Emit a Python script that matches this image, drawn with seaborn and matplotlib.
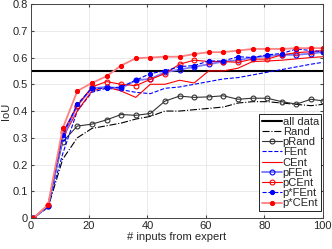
import numpy as np
import seaborn as sns
import matplotlib.pyplot as plt

# number of expert inputs (x axis)
inputs = [1, 6, 11, 16, 21, 26, 31, 36, 41, 46, 51, 56, 61, 66, 71, 76, 81, 86, 91, 96, 100]

all_data = 0.55

rand = [0, 0.04, 0.22, 0.30, 0.335, 0.345, 0.355, 0.37, 0.38, 0.40, 0.40, 0.405, 0.41,
        0.415, 0.43, 0.435, 0.435, 0.43, 0.425, 0.42, 0.425]
p_rand = [0, 0.045, 0.285, 0.344, 0.351, 0.367, 0.387, 0.384, 0.391, 0.437, 0.456, 0.451,
          0.453, 0.457, 0.444, 0.448, 0.448, 0.435, 0.426, 0.444, 0.438]
f_ent = [0, 0.045, 0.24, 0.40, 0.47, 0.485, 0.48, 0.47, 0.465, 0.485, 0.49, 0.50, 0.51,
         0.52, 0.525, 0.535, 0.545, 0.555, 0.565, 0.575, 0.582]
c_ent = [0, 0.05, 0.30, 0.40, 0.475, 0.49, 0.475, 0.451, 0.50, 0.50, 0.515, 0.505, 0.55,
         0.55, 0.56, 0.585, 0.587, 0.59, 0.595, 0.60, 0.603]
p_f_ent = [0, 0.045, 0.30, 0.42, 0.485, 0.49, 0.485, 0.515, 0.52, 0.545, 0.555, 0.565,
           0.575, 0.585, 0.59, 0.60, 0.605, 0.61, 0.61, 0.615, 0.62]
p_c_ent = [0, 0.05, 0.32, 0.42, 0.49, 0.51, 0.50, 0.495, 0.518, 0.54, 0.575, 0.59, 0.585,
           0.585, 0.582, 0.594, 0.594, 0.61, 0.618, 0.622, 0.626]
ps_f_ent = [0, 0.045, 0.31, 0.426, 0.485, 0.485, 0.49, 0.515, 0.54, 0.55, 0.566, 0.57,
            0.587, 0.587, 0.603, 0.60, 0.61, 0.615, 0.632, 0.626, 0.622]
ps_c_ent = [0, 0.05, 0.335, 0.475, 0.505, 0.53, 0.57, 0.597, 0.60, 0.603, 0.603, 0.613,
            0.62, 0.62, 0.626, 0.632, 0.632, 0.632, 0.635, 0.635, 0.635]

sns.set_style('whitegrid')
plt.rcParams['font.family'] = ['Liberation Sans', 'DejaVu Sans']

fig = plt.figure(figsize=(3.32, 2.49), dpi=100)
ax = fig.add_axes([0.092, 0.124, 0.88, 0.86])

ax.axhline(all_data, color='black', lw=1.5, label='all data')
sns.lineplot(x=inputs, y=rand, ax=ax, color='black', lw=0.8, linestyle='-.', label='Rand')
sns.lineplot(x=inputs, y=p_rand, ax=ax, color='#333333', lw=0.8, marker='o', ms=3.5,
             mfc='none', mec='#333333', mew=0.8, label='pRand')
sns.lineplot(x=inputs, y=f_ent, ax=ax, color='blue', lw=0.8, linestyle='--', label='FEnt')
sns.lineplot(x=inputs, y=c_ent, ax=ax, color='red', lw=0.8, label='CEnt')
sns.lineplot(x=inputs, y=p_f_ent, ax=ax, color='#7777ff', lw=1.3, marker='o', ms=3.5,
             mfc='none', mec='blue', mew=0.8, label='pFEnt')
sns.lineplot(x=inputs, y=p_c_ent, ax=ax, color='red', lw=0.8, marker='o', ms=3.5,
             mfc='none', mec='red', mew=0.8, label='pCEnt')
sns.lineplot(x=inputs, y=ps_f_ent, ax=ax, color='blue', lw=0.8, linestyle='--', marker='o',
             ms=3, mfc='blue', mec='blue', label='p*FEnt')
sns.lineplot(x=inputs, y=ps_c_ent, ax=ax, color='#ff8080', lw=1.3, marker='o', ms=3,
             mfc='red', mec='red', label='p*CEnt')

ax.set_xlim(0, 100)
ax.set_ylim(0, 0.8)
ax.set_xticks([0, 20, 40, 60, 80, 100])
ax.set_yticks(np.arange(0, 0.81, 0.1))
ax.set_yticklabels(['0', '0.1', '0.2', '0.3', '0.4', '0.5', '0.6', '0.7', '0.8'])
ax.set_xlabel('# inputs from expert', fontsize=8, labelpad=1)
ax.set_ylabel('IoU', fontsize=8, labelpad=1)
ax.tick_params(labelsize=8, direction='in', length=2.5, pad=2, color='#444444',
               top=True, right=True, bottom=True, left=True)
ax.grid(color='#e6e6e6', lw=0.6)
for s in ax.spines.values():
    s.set_color('#444444')
    s.set_linewidth(0.7)

leg = ax.legend(loc='lower right', bbox_to_anchor=(0.995, 0.035), fontsize=8,
                frameon=True, fancybox=False, edgecolor='black', framealpha=1,
                borderpad=0.2, labelspacing=0.02, handlelength=1.8, handletextpad=0.1,
                borderaxespad=0)
leg.get_frame().set_linewidth(0.6)

fig.savefig('out.png', dpi=100)
